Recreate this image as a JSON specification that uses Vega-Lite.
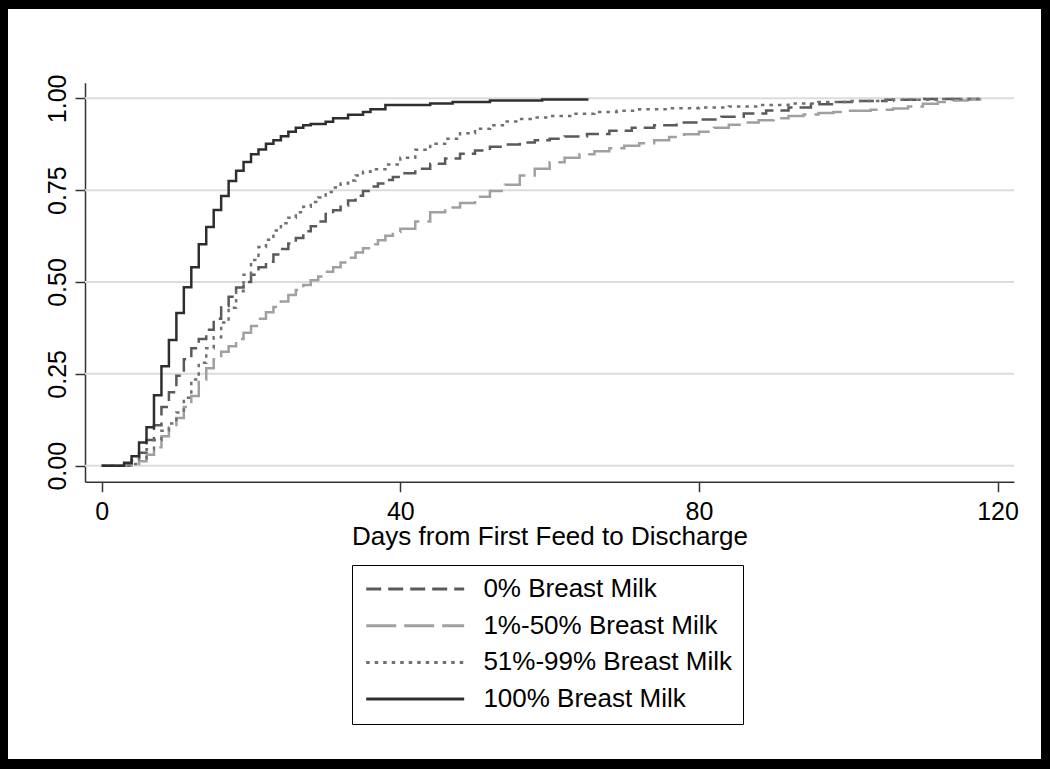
{
  "$schema": "https://vega.github.io/schema/vega-lite/v6.json",
  "width": 1033,
  "height": 750,
  "autosize": {"type": "none"},
  "padding": {"left": 8, "top": 9, "right": 9, "bottom": 10},
  "background": "black",
  "config": {
    "view": {"fill": "white", "stroke": null},
    "font": "Liberation Sans"
  },
  "layer": [
    {
      "data": {"values": [{"v": 0}, {"v": 0.25}, {"v": 0.5}, {"v": 0.75}, {"v": 1}]},
      "mark": {"type": "rule", "color": "#dcdcdc", "strokeWidth": 2},
      "encoding": {
        "y": {"field": "v", "type": "quantitative",
              "scale": {"domain": [-0.0435, 1.0425], "range": [472.7, 73.7], "nice": false, "zero": false},
              "axis": {
                "orient": "left", "offset": -77, "values": [0, 0.25, 0.5, 0.75, 1], "format": ".2f",
                "grid": false, "domainColor": "#333333", "domainWidth": 1.5,
                "tickColor": "#333333", "tickWidth": 1.5, "tickSize": 10,
                "labelFont": "Liberation Sans", "labelFontSize": 25, "labelColor": "black",
                "labelAngle": -90, "labelAlign": "center", "labelBaseline": "alphabetic",
                "labelPadding": 10, "labelFlush": false, "labelOverlap": false,
                "title": null
              }},
        "x": {"datum": -2.24, "type": "quantitative",
              "scale": {"domain": [-2.24, 122.2], "range": [77, 1006], "nice": false, "zero": false},
              "axis": {
                "orient": "bottom", "offset": -277.3, "values": [0, 40, 80, 120],
                "grid": false, "domainColor": "#333333", "domainWidth": 1.5,
                "tickColor": "#333333", "tickWidth": 1.5, "tickSize": 10,
                "labelFont": "Liberation Sans", "labelFontSize": 25, "labelColor": "black",
                "labelBaseline": "alphabetic", "labelPadding": 27.5, "labelFlush": false, "labelOverlap": false,
                "title": "Days from First Feed to Discharge",
                "titleFont": "Liberation Sans", "titleFontSize": 26, "titleFontWeight": "normal",
                "titleColor": "black", "titleBaseline": "alphabetic", "titleY": 63
              }},
        "x2": {"datum": 122.2}
      }
    },
    {
      "data": {"values": [
        {"g": "0% Breast Milk", "d": 0, "v": 0},
        {"g": "0% Breast Milk", "d": 3, "v": 0.005},
        {"g": "0% Breast Milk", "d": 4, "v": 0.015},
        {"g": "0% Breast Milk", "d": 5, "v": 0.035},
        {"g": "0% Breast Milk", "d": 6, "v": 0.07},
        {"g": "0% Breast Milk", "d": 7, "v": 0.11},
        {"g": "0% Breast Milk", "d": 8, "v": 0.16},
        {"g": "0% Breast Milk", "d": 9, "v": 0.2},
        {"g": "0% Breast Milk", "d": 10, "v": 0.245},
        {"g": "0% Breast Milk", "d": 11, "v": 0.29},
        {"g": "0% Breast Milk", "d": 12, "v": 0.32},
        {"g": "0% Breast Milk", "d": 13, "v": 0.345},
        {"g": "0% Breast Milk", "d": 14, "v": 0.37},
        {"g": "0% Breast Milk", "d": 15, "v": 0.4},
        {"g": "0% Breast Milk", "d": 16, "v": 0.435},
        {"g": "0% Breast Milk", "d": 17, "v": 0.46},
        {"g": "0% Breast Milk", "d": 18, "v": 0.485},
        {"g": "0% Breast Milk", "d": 19, "v": 0.5},
        {"g": "0% Breast Milk", "d": 20, "v": 0.52},
        {"g": "0% Breast Milk", "d": 21, "v": 0.54},
        {"g": "0% Breast Milk", "d": 22, "v": 0.555},
        {"g": "0% Breast Milk", "d": 23, "v": 0.575},
        {"g": "0% Breast Milk", "d": 24, "v": 0.59},
        {"g": "0% Breast Milk", "d": 25, "v": 0.605},
        {"g": "0% Breast Milk", "d": 26, "v": 0.62},
        {"g": "0% Breast Milk", "d": 27, "v": 0.638},
        {"g": "0% Breast Milk", "d": 28, "v": 0.652},
        {"g": "0% Breast Milk", "d": 29, "v": 0.665},
        {"g": "0% Breast Milk", "d": 30, "v": 0.685},
        {"g": "0% Breast Milk", "d": 31, "v": 0.695},
        {"g": "0% Breast Milk", "d": 32, "v": 0.708},
        {"g": "0% Breast Milk", "d": 33, "v": 0.722},
        {"g": "0% Breast Milk", "d": 34, "v": 0.735},
        {"g": "0% Breast Milk", "d": 35, "v": 0.748},
        {"g": "0% Breast Milk", "d": 36, "v": 0.76},
        {"g": "0% Breast Milk", "d": 37, "v": 0.768},
        {"g": "0% Breast Milk", "d": 38, "v": 0.778},
        {"g": "0% Breast Milk", "d": 39, "v": 0.786},
        {"g": "0% Breast Milk", "d": 40, "v": 0.796},
        {"g": "0% Breast Milk", "d": 42, "v": 0.808},
        {"g": "0% Breast Milk", "d": 44, "v": 0.822},
        {"g": "0% Breast Milk", "d": 46, "v": 0.836},
        {"g": "0% Breast Milk", "d": 48, "v": 0.849},
        {"g": "0% Breast Milk", "d": 50, "v": 0.858},
        {"g": "0% Breast Milk", "d": 52, "v": 0.868},
        {"g": "0% Breast Milk", "d": 54, "v": 0.874},
        {"g": "0% Breast Milk", "d": 56, "v": 0.88},
        {"g": "0% Breast Milk", "d": 58, "v": 0.886},
        {"g": "0% Breast Milk", "d": 60, "v": 0.89},
        {"g": "0% Breast Milk", "d": 62, "v": 0.896},
        {"g": "0% Breast Milk", "d": 65, "v": 0.903},
        {"g": "0% Breast Milk", "d": 68, "v": 0.912},
        {"g": "0% Breast Milk", "d": 71, "v": 0.92},
        {"g": "0% Breast Milk", "d": 74, "v": 0.927},
        {"g": "0% Breast Milk", "d": 77, "v": 0.934},
        {"g": "0% Breast Milk", "d": 80, "v": 0.942},
        {"g": "0% Breast Milk", "d": 83, "v": 0.95},
        {"g": "0% Breast Milk", "d": 86, "v": 0.959},
        {"g": "0% Breast Milk", "d": 89, "v": 0.967},
        {"g": "0% Breast Milk", "d": 92, "v": 0.975},
        {"g": "0% Breast Milk", "d": 95, "v": 0.984},
        {"g": "0% Breast Milk", "d": 98, "v": 0.99},
        {"g": "0% Breast Milk", "d": 101, "v": 0.993},
        {"g": "0% Breast Milk", "d": 105, "v": 0.996},
        {"g": "0% Breast Milk", "d": 110, "v": 0.998},
        {"g": "0% Breast Milk", "d": 117.5, "v": 1.0},

        {"g": "1%-50% Breast Milk", "d": 0, "v": 0},
        {"g": "1%-50% Breast Milk", "d": 4, "v": 0.005},
        {"g": "1%-50% Breast Milk", "d": 5, "v": 0.012},
        {"g": "1%-50% Breast Milk", "d": 6, "v": 0.03},
        {"g": "1%-50% Breast Milk", "d": 7, "v": 0.05},
        {"g": "1%-50% Breast Milk", "d": 8, "v": 0.08},
        {"g": "1%-50% Breast Milk", "d": 9, "v": 0.105},
        {"g": "1%-50% Breast Milk", "d": 10, "v": 0.13},
        {"g": "1%-50% Breast Milk", "d": 11, "v": 0.16},
        {"g": "1%-50% Breast Milk", "d": 12, "v": 0.19},
        {"g": "1%-50% Breast Milk", "d": 13, "v": 0.235},
        {"g": "1%-50% Breast Milk", "d": 14, "v": 0.265},
        {"g": "1%-50% Breast Milk", "d": 15, "v": 0.29},
        {"g": "1%-50% Breast Milk", "d": 16, "v": 0.31},
        {"g": "1%-50% Breast Milk", "d": 17, "v": 0.325},
        {"g": "1%-50% Breast Milk", "d": 18, "v": 0.345},
        {"g": "1%-50% Breast Milk", "d": 19, "v": 0.362},
        {"g": "1%-50% Breast Milk", "d": 20, "v": 0.38},
        {"g": "1%-50% Breast Milk", "d": 21, "v": 0.4},
        {"g": "1%-50% Breast Milk", "d": 22, "v": 0.418},
        {"g": "1%-50% Breast Milk", "d": 23, "v": 0.432},
        {"g": "1%-50% Breast Milk", "d": 24, "v": 0.447},
        {"g": "1%-50% Breast Milk", "d": 25, "v": 0.465},
        {"g": "1%-50% Breast Milk", "d": 26, "v": 0.478},
        {"g": "1%-50% Breast Milk", "d": 27, "v": 0.492},
        {"g": "1%-50% Breast Milk", "d": 28, "v": 0.505},
        {"g": "1%-50% Breast Milk", "d": 29, "v": 0.515},
        {"g": "1%-50% Breast Milk", "d": 30, "v": 0.528},
        {"g": "1%-50% Breast Milk", "d": 31, "v": 0.54},
        {"g": "1%-50% Breast Milk", "d": 32, "v": 0.553},
        {"g": "1%-50% Breast Milk", "d": 33, "v": 0.566},
        {"g": "1%-50% Breast Milk", "d": 34, "v": 0.58},
        {"g": "1%-50% Breast Milk", "d": 35, "v": 0.592},
        {"g": "1%-50% Breast Milk", "d": 36, "v": 0.603},
        {"g": "1%-50% Breast Milk", "d": 37, "v": 0.614},
        {"g": "1%-50% Breast Milk", "d": 38, "v": 0.626},
        {"g": "1%-50% Breast Milk", "d": 39, "v": 0.636},
        {"g": "1%-50% Breast Milk", "d": 40, "v": 0.645},
        {"g": "1%-50% Breast Milk", "d": 42, "v": 0.665},
        {"g": "1%-50% Breast Milk", "d": 44, "v": 0.69},
        {"g": "1%-50% Breast Milk", "d": 46, "v": 0.703},
        {"g": "1%-50% Breast Milk", "d": 48, "v": 0.715},
        {"g": "1%-50% Breast Milk", "d": 50, "v": 0.732},
        {"g": "1%-50% Breast Milk", "d": 52, "v": 0.748},
        {"g": "1%-50% Breast Milk", "d": 54, "v": 0.765},
        {"g": "1%-50% Breast Milk", "d": 56, "v": 0.79},
        {"g": "1%-50% Breast Milk", "d": 58, "v": 0.808},
        {"g": "1%-50% Breast Milk", "d": 60, "v": 0.826},
        {"g": "1%-50% Breast Milk", "d": 62, "v": 0.838},
        {"g": "1%-50% Breast Milk", "d": 64, "v": 0.848},
        {"g": "1%-50% Breast Milk", "d": 66, "v": 0.856},
        {"g": "1%-50% Breast Milk", "d": 68, "v": 0.864},
        {"g": "1%-50% Breast Milk", "d": 70, "v": 0.871},
        {"g": "1%-50% Breast Milk", "d": 72, "v": 0.878},
        {"g": "1%-50% Breast Milk", "d": 74, "v": 0.886},
        {"g": "1%-50% Breast Milk", "d": 76, "v": 0.895},
        {"g": "1%-50% Breast Milk", "d": 78, "v": 0.902},
        {"g": "1%-50% Breast Milk", "d": 80, "v": 0.909},
        {"g": "1%-50% Breast Milk", "d": 82, "v": 0.92},
        {"g": "1%-50% Breast Milk", "d": 84, "v": 0.928},
        {"g": "1%-50% Breast Milk", "d": 86, "v": 0.934},
        {"g": "1%-50% Breast Milk", "d": 88, "v": 0.94},
        {"g": "1%-50% Breast Milk", "d": 90, "v": 0.946},
        {"g": "1%-50% Breast Milk", "d": 92, "v": 0.952},
        {"g": "1%-50% Breast Milk", "d": 94, "v": 0.956},
        {"g": "1%-50% Breast Milk", "d": 96, "v": 0.96},
        {"g": "1%-50% Breast Milk", "d": 98, "v": 0.963},
        {"g": "1%-50% Breast Milk", "d": 100, "v": 0.966},
        {"g": "1%-50% Breast Milk", "d": 103, "v": 0.969},
        {"g": "1%-50% Breast Milk", "d": 106, "v": 0.972},
        {"g": "1%-50% Breast Milk", "d": 108, "v": 0.978},
        {"g": "1%-50% Breast Milk", "d": 110, "v": 0.985},
        {"g": "1%-50% Breast Milk", "d": 112, "v": 0.99},
        {"g": "1%-50% Breast Milk", "d": 114, "v": 0.994},
        {"g": "1%-50% Breast Milk", "d": 116, "v": 0.997},
        {"g": "1%-50% Breast Milk", "d": 118, "v": 1.0},

        {"g": "51%-99% Breast Milk", "d": 0, "v": 0},
        {"g": "51%-99% Breast Milk", "d": 4, "v": 0.005},
        {"g": "51%-99% Breast Milk", "d": 5, "v": 0.02},
        {"g": "51%-99% Breast Milk", "d": 6, "v": 0.045},
        {"g": "51%-99% Breast Milk", "d": 7, "v": 0.07},
        {"g": "51%-99% Breast Milk", "d": 8, "v": 0.095},
        {"g": "51%-99% Breast Milk", "d": 9, "v": 0.115},
        {"g": "51%-99% Breast Milk", "d": 10, "v": 0.145},
        {"g": "51%-99% Breast Milk", "d": 11, "v": 0.185},
        {"g": "51%-99% Breast Milk", "d": 12, "v": 0.235},
        {"g": "51%-99% Breast Milk", "d": 13, "v": 0.28},
        {"g": "51%-99% Breast Milk", "d": 14, "v": 0.32},
        {"g": "51%-99% Breast Milk", "d": 15, "v": 0.35},
        {"g": "51%-99% Breast Milk", "d": 16, "v": 0.39},
        {"g": "51%-99% Breast Milk", "d": 17, "v": 0.43},
        {"g": "51%-99% Breast Milk", "d": 18, "v": 0.475},
        {"g": "51%-99% Breast Milk", "d": 19, "v": 0.52},
        {"g": "51%-99% Breast Milk", "d": 20, "v": 0.56},
        {"g": "51%-99% Breast Milk", "d": 21, "v": 0.595},
        {"g": "51%-99% Breast Milk", "d": 22, "v": 0.615},
        {"g": "51%-99% Breast Milk", "d": 23, "v": 0.64},
        {"g": "51%-99% Breast Milk", "d": 24, "v": 0.66},
        {"g": "51%-99% Breast Milk", "d": 25, "v": 0.675},
        {"g": "51%-99% Breast Milk", "d": 26, "v": 0.69},
        {"g": "51%-99% Breast Milk", "d": 27, "v": 0.705},
        {"g": "51%-99% Breast Milk", "d": 28, "v": 0.718},
        {"g": "51%-99% Breast Milk", "d": 29, "v": 0.73},
        {"g": "51%-99% Breast Milk", "d": 30, "v": 0.745},
        {"g": "51%-99% Breast Milk", "d": 31, "v": 0.757},
        {"g": "51%-99% Breast Milk", "d": 32, "v": 0.768},
        {"g": "51%-99% Breast Milk", "d": 33, "v": 0.776},
        {"g": "51%-99% Breast Milk", "d": 34, "v": 0.79},
        {"g": "51%-99% Breast Milk", "d": 35, "v": 0.8},
        {"g": "51%-99% Breast Milk", "d": 36, "v": 0.807},
        {"g": "51%-99% Breast Milk", "d": 38, "v": 0.82},
        {"g": "51%-99% Breast Milk", "d": 40, "v": 0.838},
        {"g": "51%-99% Breast Milk", "d": 42, "v": 0.86},
        {"g": "51%-99% Breast Milk", "d": 44, "v": 0.876},
        {"g": "51%-99% Breast Milk", "d": 46, "v": 0.89},
        {"g": "51%-99% Breast Milk", "d": 48, "v": 0.905},
        {"g": "51%-99% Breast Milk", "d": 50, "v": 0.917},
        {"g": "51%-99% Breast Milk", "d": 52, "v": 0.927},
        {"g": "51%-99% Breast Milk", "d": 54, "v": 0.937},
        {"g": "51%-99% Breast Milk", "d": 56, "v": 0.944},
        {"g": "51%-99% Breast Milk", "d": 58, "v": 0.948},
        {"g": "51%-99% Breast Milk", "d": 60, "v": 0.952},
        {"g": "51%-99% Breast Milk", "d": 63, "v": 0.958},
        {"g": "51%-99% Breast Milk", "d": 66, "v": 0.963},
        {"g": "51%-99% Breast Milk", "d": 69, "v": 0.966},
        {"g": "51%-99% Breast Milk", "d": 72, "v": 0.97},
        {"g": "51%-99% Breast Milk", "d": 76, "v": 0.973},
        {"g": "51%-99% Breast Milk", "d": 80, "v": 0.975},
        {"g": "51%-99% Breast Milk", "d": 84, "v": 0.978},
        {"g": "51%-99% Breast Milk", "d": 88, "v": 0.982},
        {"g": "51%-99% Breast Milk", "d": 92, "v": 0.986},
        {"g": "51%-99% Breast Milk", "d": 96, "v": 0.99},
        {"g": "51%-99% Breast Milk", "d": 100, "v": 0.993},
        {"g": "51%-99% Breast Milk", "d": 106, "v": 0.996},
        {"g": "51%-99% Breast Milk", "d": 112, "v": 0.998},
        {"g": "51%-99% Breast Milk", "d": 118, "v": 1.0},

        {"g": "100% Breast Milk", "d": 0, "v": 0},
        {"g": "100% Breast Milk", "d": 3, "v": 0.008},
        {"g": "100% Breast Milk", "d": 4, "v": 0.026},
        {"g": "100% Breast Milk", "d": 5, "v": 0.063},
        {"g": "100% Breast Milk", "d": 6, "v": 0.105},
        {"g": "100% Breast Milk", "d": 7, "v": 0.192},
        {"g": "100% Breast Milk", "d": 8, "v": 0.271},
        {"g": "100% Breast Milk", "d": 9, "v": 0.342},
        {"g": "100% Breast Milk", "d": 10, "v": 0.416},
        {"g": "100% Breast Milk", "d": 11, "v": 0.486},
        {"g": "100% Breast Milk", "d": 12, "v": 0.54},
        {"g": "100% Breast Milk", "d": 13, "v": 0.603},
        {"g": "100% Breast Milk", "d": 14, "v": 0.65},
        {"g": "100% Breast Milk", "d": 15, "v": 0.696},
        {"g": "100% Breast Milk", "d": 16, "v": 0.734},
        {"g": "100% Breast Milk", "d": 17, "v": 0.775},
        {"g": "100% Breast Milk", "d": 18, "v": 0.803},
        {"g": "100% Breast Milk", "d": 19, "v": 0.827},
        {"g": "100% Breast Milk", "d": 20, "v": 0.848},
        {"g": "100% Breast Milk", "d": 21, "v": 0.861},
        {"g": "100% Breast Milk", "d": 22, "v": 0.876},
        {"g": "100% Breast Milk", "d": 23, "v": 0.886},
        {"g": "100% Breast Milk", "d": 24, "v": 0.897},
        {"g": "100% Breast Milk", "d": 25, "v": 0.909},
        {"g": "100% Breast Milk", "d": 26, "v": 0.92},
        {"g": "100% Breast Milk", "d": 27, "v": 0.927},
        {"g": "100% Breast Milk", "d": 28, "v": 0.93},
        {"g": "100% Breast Milk", "d": 30, "v": 0.936},
        {"g": "100% Breast Milk", "d": 31, "v": 0.946},
        {"g": "100% Breast Milk", "d": 33, "v": 0.955},
        {"g": "100% Breast Milk", "d": 35, "v": 0.963},
        {"g": "100% Breast Milk", "d": 36, "v": 0.97},
        {"g": "100% Breast Milk", "d": 38, "v": 0.982},
        {"g": "100% Breast Milk", "d": 44, "v": 0.986},
        {"g": "100% Breast Milk", "d": 47, "v": 0.99},
        {"g": "100% Breast Milk", "d": 52, "v": 0.994},
        {"g": "100% Breast Milk", "d": 59, "v": 0.997},
        {"g": "100% Breast Milk", "d": 65.2, "v": 0.997}
      ]},
      "mark": {"type": "line", "interpolate": "step-after", "strokeWidth": 2.5},
      "encoding": {
        "x": {"field": "d", "type": "quantitative",
              "scale": {"domain": [-2.24, 122.2], "range": [77, 1006], "nice": false, "zero": false},
              "axis": {
                "orient": "bottom", "offset": -277.3, "values": [0, 40, 80, 120],
                "grid": false, "domainColor": "#333333", "domainWidth": 1.5,
                "tickColor": "#333333", "tickWidth": 1.5, "tickSize": 10,
                "labelFont": "Liberation Sans", "labelFontSize": 25, "labelColor": "black",
                "labelBaseline": "alphabetic", "labelPadding": 27.5, "labelFlush": false, "labelOverlap": false,
                "title": "Days from First Feed to Discharge",
                "titleFont": "Liberation Sans", "titleFontSize": 26, "titleFontWeight": "normal",
                "titleColor": "black", "titleBaseline": "alphabetic", "titleY": 63
              }},
        "y": {"field": "v", "type": "quantitative",
              "scale": {"domain": [-0.0435, 1.0425], "range": [472.7, 73.7], "nice": false, "zero": false},
              "axis": {
                "orient": "left", "offset": -77, "values": [0, 0.25, 0.5, 0.75, 1], "format": ".2f",
                "grid": false, "domainColor": "#333333", "domainWidth": 1.5,
                "tickColor": "#333333", "tickWidth": 1.5, "tickSize": 10,
                "labelFont": "Liberation Sans", "labelFontSize": 25, "labelColor": "black",
                "labelAngle": -90, "labelAlign": "center", "labelBaseline": "alphabetic",
                "labelPadding": 10, "labelFlush": false, "labelOverlap": false,
                "title": null
              }},
        "color": {"field": "g", "type": "nominal",
                  "scale": {"domain": ["0% Breast Milk", "1%-50% Breast Milk", "51%-99% Breast Milk", "100% Breast Milk"],
                            "range": ["#5a5a5a", "#a0a0a0", "#707070", "#2e2e2e"]},
                  "legend": {
                    "orient": "none", "legendX": 344, "legendY": 556, "title": null,
                    "strokeColor": "black", "fillColor": "white", "padding": 11, "rowPadding": 10.7,
                    "symbolType": "M-1,0H9", "symbolSize": 384, "symbolStrokeWidth": 3,
                    "labelOffset": 94.4, "labelFont": "Liberation Sans", "labelFontSize": 26,
                    "labelColor": "black", "labelLimit": 500
                  }},
        "strokeDash": {"field": "g", "type": "nominal",
                  "scale": {"domain": ["0% Breast Milk", "1%-50% Breast Milk", "51%-99% Breast Milk", "100% Breast Milk"],
                            "range": [[15, 7], [30, 8], [3.5, 5], [1, 0]]},
                  "legend": {
                    "orient": "none", "legendX": 344, "legendY": 556, "title": null,
                    "strokeColor": "black", "fillColor": "white", "padding": 11, "rowPadding": 10.7,
                    "symbolType": "M-1,0H9", "symbolSize": 384, "symbolStrokeWidth": 3,
                    "labelOffset": 94.4, "labelFont": "Liberation Sans", "labelFontSize": 26,
                    "labelColor": "black", "labelLimit": 500
                  }}
      }
    }
  ]
}
